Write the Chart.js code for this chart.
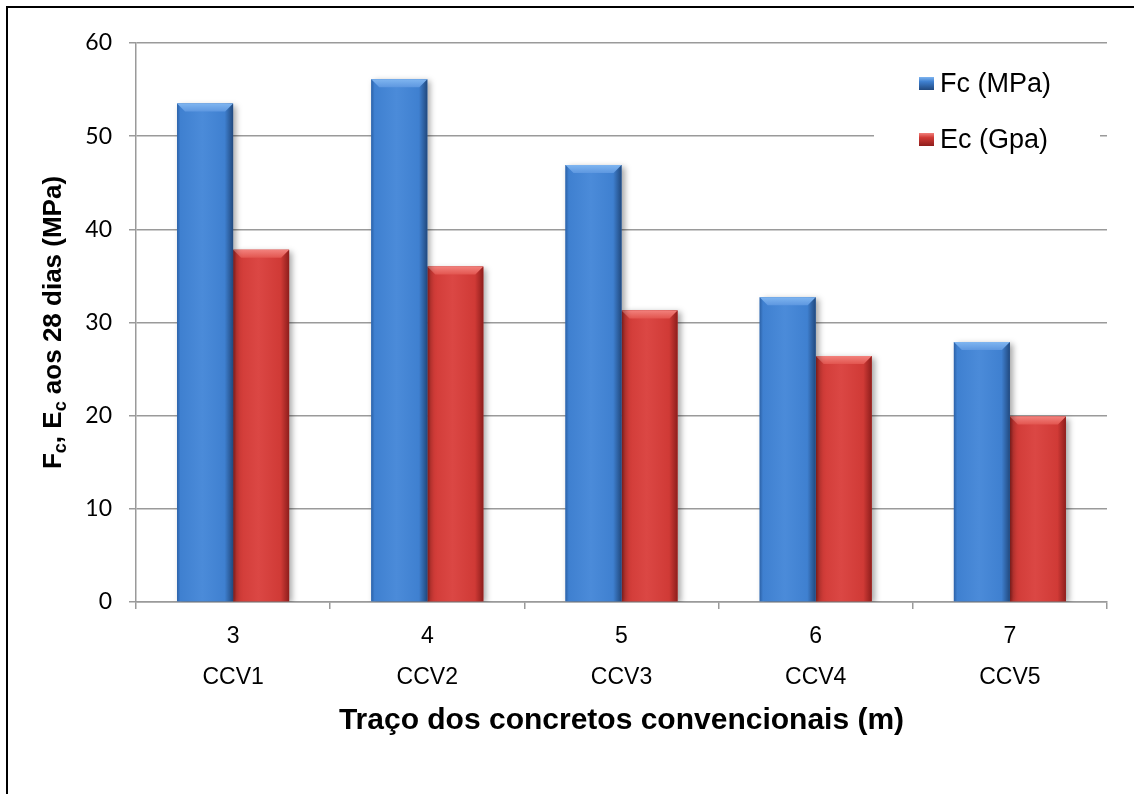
<!DOCTYPE html>
<html>
<head>
<meta charset="utf-8">
<script src="https://cdn.jsdelivr.net/npm/chart.js@4.4.1/dist/chart.umd.min.js"></script>
<style>
  html, body { margin: 0; padding: 0; background: #fff; overflow: hidden; }
  #wrap { position: relative; width: 1134px; height: 794px; }
  #wrap canvas { position: absolute; left: 0; top: 0; }
  #frame {
    position: absolute; left: 6px; top: 6px; width: 1140px; height: 800px;
    border-left: 2px solid #000; border-top: 2px solid #000; pointer-events: none;
  }
</style>
</head>
<body>
<div id="wrap">
  <canvas id="chart" width="1134" height="794"></canvas>
  <div id="frame"></div>
</div>
<script>
const tracos = ["3", "4", "5", "6", "7"];
const concretos = ["CCV1", "CCV2", "CCV3", "CCV4", "CCV5"];
const fcMpa = [53.5, 56.1, 46.9, 32.7, 27.9];
const ecGpa = [37.8, 36.0, 31.3, 26.4, 19.9];
const yMin = 0;
const yMax = 60;
const yStep = 10;

const seriesNames = ["Fc (MPa)", "Ec (Gpa)"];
const palettes = [
  { base: "#3d7dcc", left: "#2c62a8", mid: "#3f80d0", light: "#4b8bd9", right: "#21497e", topA: "#7fb5f0", topB: "#5d97e0" },
  { base: "#cf3935", left: "#a92826", mid: "#d03a36", light: "#db4744", right: "#8e1e1c", topA: "#f2817c", topB: "#e2554f" }
];

const gridColor = "#9a9a9a";

// horizontal shading + bevelled top on each bar
const barLook = {
  id: "barLook",
  beforeDatasetDraw(chart) {
    const ctx = chart.ctx;
    ctx.save();
    ctx.shadowColor = "rgba(0,0,0,0.35)";
    ctx.shadowBlur = 6;
    ctx.shadowOffsetX = 3;
    ctx.shadowOffsetY = 2;
  },
  afterDatasetDraw(chart, args) {
    const ctx = chart.ctx;
    ctx.restore();
    const pal = palettes[args.index];
    const meta = args.meta;
    ctx.save();
    meta.data.forEach((bar) => {
      const { x, y, base, width } = bar.getProps(["x", "y", "base", "width"], true);
      const l = x - width / 2;
      const r = x + width / 2;
      const g = ctx.createLinearGradient(l, 0, r, 0);
      g.addColorStop(0, pal.left);
      g.addColorStop(0.06, pal.mid);
      g.addColorStop(0.45, pal.light);
      g.addColorStop(0.85, pal.mid);
      g.addColorStop(1, pal.right);
      ctx.fillStyle = g;
      ctx.fillRect(l, y, width, base - y);

      const bev = 8;
      const tg = ctx.createLinearGradient(0, y, 0, y + bev);
      tg.addColorStop(0, pal.topA);
      tg.addColorStop(1, pal.topB);
      ctx.fillStyle = tg;
      ctx.beginPath();
      ctx.moveTo(l, y);
      ctx.lineTo(r, y);
      ctx.lineTo(r - bev, y + bev);
      ctx.lineTo(l + bev, y + bev);
      ctx.closePath();
      ctx.fill();
    });
    ctx.restore();
  }
};

// axis titles and the legend box
const annotations = {
  id: "annotations",
  afterDraw(chart) {
    const ctx = chart.ctx;
    const area = chart.chartArea;
    ctx.save();
    ctx.fillStyle = "#000";

    // x title
    ctx.font = "bold 30px 'Liberation Sans', Arial, sans-serif";
    ctx.textAlign = "center";
    ctx.textBaseline = "alphabetic";
    ctx.fillText("Traço dos concretos convencionais (m)", (area.left + area.right) / 2, 729);

    // y title with subscripts
    const big = "bold 26px 'Liberation Sans', Arial, sans-serif";
    const small = "bold 18px 'Liberation Sans', Arial, sans-serif";
    const parts = [["F", false], ["c", true], [", E", false], ["c", true], [" aos 28 dias (MPa)", false]];
    let total = 0;
    parts.forEach(([t, sub]) => { ctx.font = sub ? small : big; total += ctx.measureText(t).width; });
    ctx.translate(61, (area.top + area.bottom) / 2);
    ctx.rotate(-Math.PI / 2);
    ctx.textAlign = "left";
    let cx = -total / 2;
    parts.forEach(([t, sub]) => {
      ctx.font = sub ? small : big;
      ctx.fillText(t, cx, sub ? 5 : 0);
      cx += ctx.measureText(t).width;
    });
    ctx.restore();

    // legend
    ctx.save();
    ctx.fillStyle = "#fff";
    ctx.fillRect(874, 58, 226, 110);
    ctx.font = "27px 'Liberation Sans', Arial, sans-serif";
    ctx.textAlign = "left";
    ctx.textBaseline = "alphabetic";
    const rows = [92, 148];
    seriesNames.forEach((name, i) => {
      const pal = palettes[i];
      const by = rows[i] - 15;
      const g = ctx.createLinearGradient(0, by, 0, by + 13);
      g.addColorStop(0, pal.topA);
      g.addColorStop(0.35, pal.mid);
      g.addColorStop(1, pal.right);
      ctx.fillStyle = g;
      ctx.fillRect(919, by, 15, 13);
      ctx.fillStyle = "#000";
      ctx.fillText(name, 940, rows[i]);
    });
    ctx.restore();
  }
};

new Chart(document.getElementById("chart"), {
  type: "bar",
  data: {
    labels: tracos.map((t, i) => [t, concretos[i]]),
    datasets: [
      { label: seriesNames[0], data: fcMpa, backgroundColor: palettes[0].base, borderWidth: 0 },
      { label: seriesNames[1], data: ecGpa, backgroundColor: palettes[1].base, borderWidth: 0 }
    ]
  },
  options: {
    responsive: false,
    animation: false,
    events: [],
    layout: { padding: { top: 43, right: 27, left: 0, bottom: 0 } },
    datasets: { bar: { categoryPercentage: 0.577, barPercentage: 1.0 } },
    plugins: { legend: { display: false }, tooltip: { enabled: false } },
    scales: {
      x: {
        offset: true,
        grid: { offset: true, drawOnChartArea: false, color: gridColor, lineWidth: 1.5, tickLength: 7 },
        border: { color: gridColor, width: 1.5 },
        ticks: {
          color: "#000",
          padding: 7.5,
          font: { family: "'Liberation Sans', Arial, sans-serif", size: 23, lineHeight: 1.78 }
        },
        afterFit(scale) { scale.height = 192; }
      },
      y: {
        min: yMin,
        max: yMax,
        grid: { color: gridColor, lineWidth: 1.5, tickLength: 7 },
        border: { color: gridColor, width: 1.5 },
        ticks: {
          stepSize: yStep,
          color: "#000",
          padding: 17,
          font: { family: "Lato, 'Open Sans', sans-serif", size: 23 }
        },
        afterFit(scale) { scale.width = 136; }
      }
    }
  },
  plugins: [barLook, annotations]
});
</script>
</body>
</html>
